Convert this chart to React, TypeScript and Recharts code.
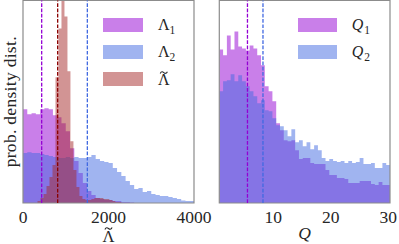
import React from "react";
import {
  ComposedChart,
  Area,
  XAxis,
  YAxis,
  ReferenceLine,
  ReferenceArea,
  Legend,
} from "recharts";

// histogram heights (arbitrary density units)
// Λ1 / Λ2: bins of 100 starting at 0
const lambdaBinStart = 0;
const lambdaBinWidth = 100;
const lambda1 = [
  94, 89, 90, 89, 94, 95, 94, 88, 86, 80, 72, 55, 42, 30, 20, 12, 8, 5, 4, 3,
  3, 2, 2, 1, 1, 0.5,
];
const lambda2 = [
  50, 51, 50, 50, 49, 48, 47, 46, 45, 45, 46, 45, 46, 45, 45, 46, 48, 44, 42,
  41, 40, 35, 31, 27, 22, 18, 14, 15, 11, 12, 9, 8, 7, 7, 6, 5, 4, 2.5, 2, 2,
];
// Λ̃: bins of 70 starting at 340
const tildeBinStart = 340;
const tildeBinWidth = 70;
const lambdaTilde = [
  2, 5, 9, 17, 26, 38, 126, 175, 240, 187, 132, 62, 33, 16, 7, 4, 3, 3, 4, 5,
  5, 5, 4, 4, 3, 2, 1, 1,
];
const lambdaTicks = [0, 2000, 4000];
const lambdaMarks = [437, 1505, 811]; // Λ1, Λ2, Λ̃

// Q1 / Q2: bins of 0.66 starting at 0.6
const qBinStart = 0.6;
const qBinWidth = 0.66;
const q1 = [
  154, 148, 168, 154, 172, 157, 155, 153, 158, 155, 148, 138, 117, 112, 102,
  80, 73, 63, 62, 63, 53, 44, 45, 45, 40, 39, 39, 39, 33, 28, 28, 25, 25, 24,
  20, 20, 20, 22, 22, 22, 19, 18, 21, 18, 18,
];
const q2 = [
  112, 122, 123, 129, 122, 128, 122, 117, 112, 107, 100, 103, 93, 92, 85, 78,
  77, 73, 67, 74, 61, 63, 57, 61, 54, 58, 53, 45, 42, 44, 42, 41, 42, 40, 42,
  40, 41, 45, 39, 39, 40, 35, 35, 40, 38,
];
const qTicks = [10, 20, 30];
const qMarks = [5.5, 8.2]; // Q1, Q2

const FONT = '"Liberation Serif", "Times New Roman", serif';
const INK = "#262626";
const PURPLE = "#9400d3";
const BLUE = "#4169e1";
const BROWN = "#a52a2a";
const FRAME = "#8c8c8c";
const YMAX = 203;

type Hist = { key: string; start: number; width: number; heights: number[] };

const heightAt = (h: Hist, x: number) => {
  const i = Math.floor((x - h.start) / h.width + 1e-4);
  return i >= 0 && i < h.heights.length ? h.heights[i] : 0;
};

// one row per bin edge of any series, for step areas
const buildRows = (hists: Hist[], lo: number, hi: number) => {
  const xs = new Set<number>([lo, hi]);
  hists.forEach((h) => {
    for (let i = 0; i <= h.heights.length; i++) {
      xs.add(Math.round((h.start + i * h.width) * 1000) / 1000);
    }
  });
  return [...xs]
    .sort((a, b) => a - b)
    .map((x) => {
      const row: Record<string, number> = { x };
      hists.forEach((h) => (row[h.key] = heightAt(h, x)));
      return row;
    });
};

const lambdaRows = buildRows(
  [
    { key: "l1", start: lambdaBinStart, width: lambdaBinWidth, heights: lambda1 },
    { key: "l2", start: lambdaBinStart, width: lambdaBinWidth, heights: lambda2 },
    { key: "lt", start: tildeBinStart, width: tildeBinWidth, heights: lambdaTilde },
  ],
  0,
  4000
);

const qRows = buildRows(
  [
    { key: "q1", start: qBinStart, width: qBinWidth, heights: q1 },
    { key: "q2", start: qBinStart, width: qBinWidth, heights: q2 },
  ],
  qBinStart,
  qBinStart + q1.length * qBinWidth
);

const axisTick = { fill: INK, fontSize: 17.5, fontFamily: FONT };
const dash = "3.7 1.6";

// the accent of Λ̃, drawn as a small wave centred on (cx, cy)
const tildePath = (cx: number, cy: number) =>
  `M${cx - 3.6} ${cy + 0.9} C${cx - 2.4} ${cy - 1.5} ${cx - 1} ${cy - 0.8} ${cx} ${cy}` +
  ` S${cx + 2.4} ${cy + 1.5} ${cx + 3.6} ${cy - 0.9}`;

const Sub = ({ base, sub, italic }: any) => (
  <span style={{ fontStyle: italic ? "italic" : "normal" }}>
    {base}
    <span
      style={{
        fontSize: 11.5,
        position: "relative",
        top: 4,
        fontStyle: "normal",
        marginLeft: italic ? 1 : 0,
      }}
    >
      {sub}
    </span>
  </span>
);

const LegendRows = ({ rows }: any) => (
  <div style={{ fontFamily: FONT, fontSize: 16, color: INK }}>
    {rows.map((r: any, i: number) => (
      <div
        key={i}
        style={{ display: "flex", alignItems: "center", height: 27 }}
      >
        <div
          style={{ width: r.w, height: 14, background: r.color, opacity: 0.5 }}
        />
        <div style={{ marginLeft: 15, whiteSpace: "nowrap" }}>{r.label}</div>
      </div>
    ))}
  </div>
);

const legendTilde = (
  <svg width={14} height={27} style={{ display: "block", overflow: "visible" }}>
    <text x={5.8} y={18.8} textAnchor="middle" fill={INK} fontSize={16} fontFamily={FONT}>
      Λ
    </text>
    <path d={tildePath(5.8, 6.6)} fill="none" stroke={INK} strokeWidth={1.05} />
  </svg>
);

const tildeAxisLabel = ({ viewBox }: any) => {
  const cx = viewBox.x + viewBox.width / 2;
  const by = viewBox.y + viewBox.height - 2.5;
  return (
    <g>
      <text x={cx} y={by} textAnchor="middle" fill={INK} fontSize={16.5} fontFamily={FONT}>
        Λ
      </text>
      <path d={tildePath(cx, by - 13)} fill="none" stroke={INK} strokeWidth={1.1} />
    </g>
  );
};

const yLabel = ({ viewBox }: any) => {
  const bx = viewBox.x + 16;
  const cy = viewBox.y + viewBox.height / 2;
  return (
    <text
      x={bx}
      y={cy}
      transform={`rotate(-90 ${bx} ${cy})`}
      textAnchor="middle"
      fill={INK}
      fontSize={17.5}
      fontFamily={FONT}
      letterSpacing={0.3}
    >
      prob. density dist.
    </text>
  );
};

const LambdaPanel = () => (
  <ComposedChart
    width={399}
    height={244}
    data={lambdaRows}
    margin={{ top: 0.5, right: 205, bottom: 0, left: 0 }}
  >
    <XAxis
      dataKey="x"
      type="number"
      domain={[0, 4000]}
      ticks={lambdaTicks}
      interval={0}
      tickLine={false}
      axisLine={false}
      height={41}
      tick={axisTick}
      allowDataOverflow
      label={tildeAxisLabel}
    />
    <YAxis
      type="number"
      domain={[0, YMAX]}
      width={23}
      tick={false}
      tickLine={false}
      axisLine={false}
      allowDataOverflow
      label={yLabel}
    />
    <Area type="stepAfter" dataKey="l1" stroke="none" fill={PURPLE} fillOpacity={0.5} isAnimationActive={false} />
    <Area type="stepAfter" dataKey="l2" stroke="none" fill={BLUE} fillOpacity={0.5} isAnimationActive={false} />
    <Area type="stepAfter" dataKey="lt" stroke="none" fill={BROWN} fillOpacity={0.5} isAnimationActive={false} />
    <ReferenceLine x={lambdaMarks[0]} stroke={PURPLE} strokeDasharray={dash} strokeWidth={1.3} />
    <ReferenceLine x={lambdaMarks[1]} stroke={BLUE} strokeDasharray={dash} strokeWidth={1.3} />
    <ReferenceLine x={lambdaMarks[2]} stroke="#8b0000" strokeDasharray={dash} strokeWidth={1.3} />
    <ReferenceArea x1={0} x2={4000} y1={0} y2={YMAX} fill="none" fillOpacity={0} stroke={FRAME} strokeWidth={1.2} />
    <Legend
      layout="vertical"
      align="center"
      verticalAlign="middle"
      wrapperStyle={{ left: 103, top: 11.5, width: 90 }}
      content={() => (
        <LegendRows
          rows={[
            { color: PURPLE, w: 40, label: <Sub base="Λ" sub="1" /> },
            { color: BLUE, w: 40, label: <Sub base="Λ" sub="2" /> },
            { color: BROWN, w: 40, label: legendTilde },
          ]}
        />
      )}
    />
  </ComposedChart>
);

const QPanel = () => (
  <ComposedChart
    width={399}
    height={244}
    data={qRows}
    margin={{ top: 0.5, right: 9, bottom: 0, left: 219.3 }}
  >
    <XAxis
      dataKey="x"
      type="number"
      domain={[0.6, 30.3]}
      ticks={qTicks}
      interval={0}
      tickLine={false}
      axisLine={false}
      height={41}
      tick={axisTick}
      allowDataOverflow
      label={{
        value: "Q",
        position: "insideBottom",
        offset: 5.5,
        fill: INK,
        fontSize: 17.5,
        fontFamily: FONT,
        fontStyle: "italic",
      }}
    />
    <YAxis type="number" domain={[0, YMAX]} hide allowDataOverflow />
    <Area type="stepAfter" dataKey="q1" stroke="none" fill={PURPLE} fillOpacity={0.5} isAnimationActive={false} />
    <Area type="stepAfter" dataKey="q2" stroke="none" fill={BLUE} fillOpacity={0.5} isAnimationActive={false} />
    <ReferenceLine x={qMarks[0]} stroke={PURPLE} strokeDasharray={dash} strokeWidth={1.3} />
    <ReferenceLine x={qMarks[1]} stroke={BLUE} strokeDasharray={dash} strokeWidth={1.3} />
    <ReferenceArea x1={0.6} x2={30.3} y1={0} y2={YMAX} fill="none" fillOpacity={0} stroke={FRAME} strokeWidth={1.2} />
    <Legend
      layout="vertical"
      align="center"
      verticalAlign="middle"
      wrapperStyle={{ left: 297.7, top: 11.5, width: 90 }}
      content={() => (
        <LegendRows
          rows={[
            { color: PURPLE, w: 39, label: <Sub base="Q" sub="1" italic /> },
            { color: BLUE, w: 39, label: <Sub base="Q" sub="2" italic /> },
          ]}
        />
      )}
    />
  </ComposedChart>
);

export default function App() {
  return (
    <div
      style={{
        position: "absolute",
        left: 0,
        top: 0,
        width: 399,
        height: 244,
        background: "#fff",
        overflow: "hidden",
      }}
    >
      <div style={{ position: "absolute", left: 0, top: 0 }}>
        <LambdaPanel />
      </div>
      <div style={{ position: "absolute", left: 0, top: 0 }}>
        <QPanel />
      </div>
    </div>
  );
}
